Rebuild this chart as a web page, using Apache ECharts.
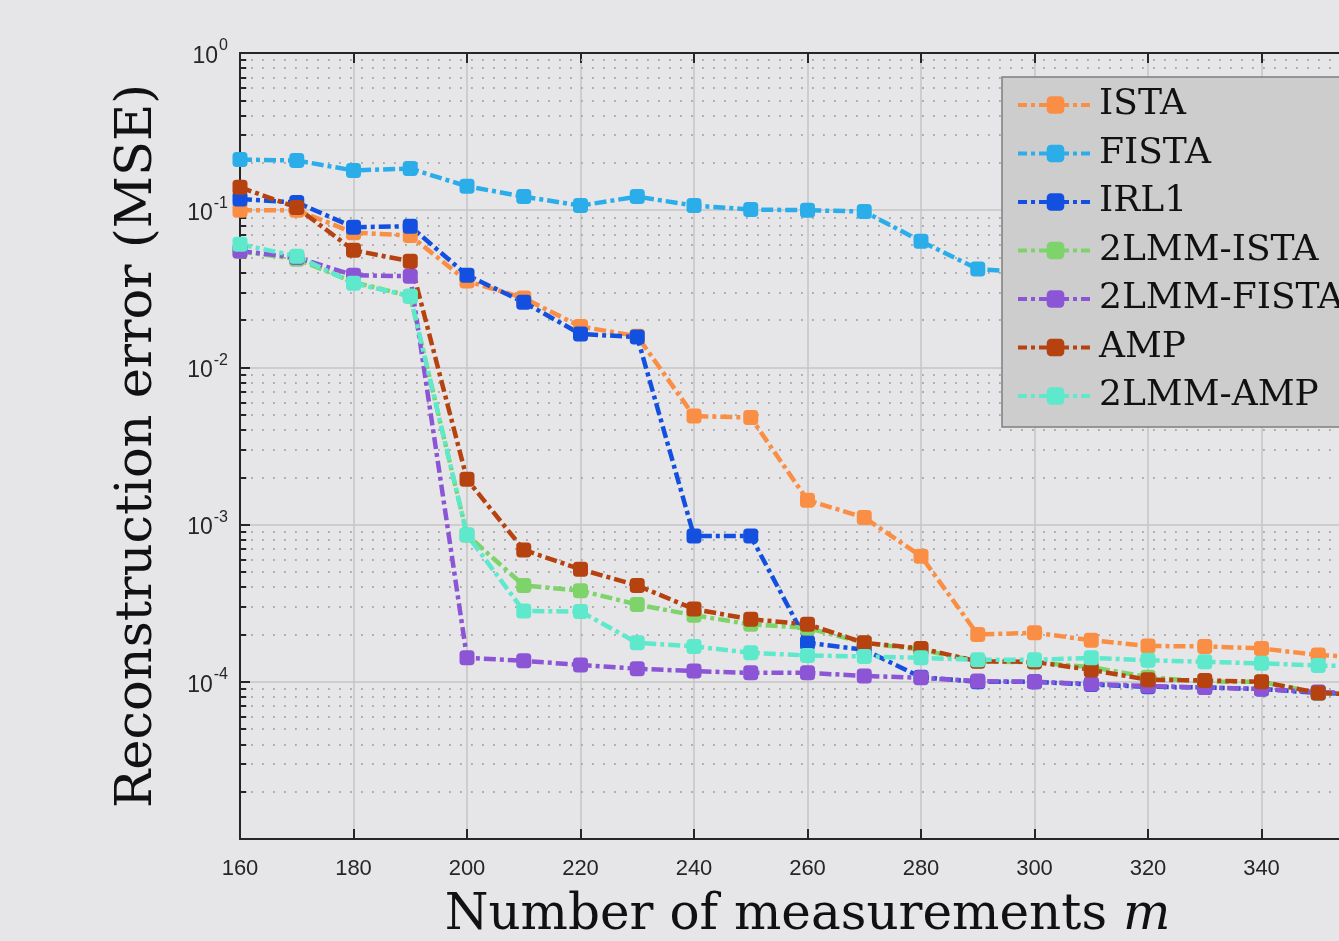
<!DOCTYPE html>
<html><head><meta charset="utf-8">
<script src="https://cdn.jsdelivr.net/npm/echarts@6/dist/echarts.min.js"></script>
<style>html,body{margin:0;padding:0;background:#e6e6e8;overflow:hidden;}#c{width:1400px;height:941px;}</style>
</head><body><div id="c"></div>
<script>
const m = [160,170,180,190,200,210,220,230,240,250,260,270,280,290,300,310,320,330,340,350,360];
const ista = [0.1,0.1,0.072,0.069,0.0354,0.0276,0.0182,0.0158,0.0049,0.0048,0.00143,0.00111,0.00063,0.0002,0.000205,0.000184,0.000169,0.000168,0.000163,0.000148,0.000142];
const fista = [0.21,0.207,0.179,0.184,0.142,0.122,0.107,0.122,0.107,0.101,0.1,0.098,0.0634,0.0422,0.04,0.038,0.036,0.035,0.034,0.033,0.032];
const irl1 = [0.118,0.112,0.078,0.079,0.0386,0.026,0.0163,0.0156,0.000845,0.000845,0.000177,0.00016,0.000107,0.0001,0.0001,0.000096,0.000093,0.000092,0.00009,0.000085,0.000083];
const lmmIsta = [0.0548,0.0488,0.0349,0.0284,0.00086,0.00041,0.00038,0.00031,0.000265,0.000232,0.00022,0.000177,0.00016,0.000135,0.000133,0.000124,0.000107,0.0001,0.0001,0.000085,0.000083];
const lmmFista = [0.055,0.05,0.0386,0.038,0.000142,0.000136,0.000128,0.000121,0.000117,0.000114,0.000114,0.000109,0.000106,0.000101,0.0001,0.000097,0.000094,0.000092,0.00009,0.000086,0.000084];
const amp = [0.14,0.104,0.0556,0.0474,0.00194,0.00069,0.00052,0.00041,0.00029,0.00025,0.000232,0.000177,0.000163,0.000135,0.000134,0.000119,0.000103,0.000102,0.0001,0.000085,0.000082];
const lmmAmp = [0.0607,0.051,0.0343,0.0284,0.00086,0.000282,0.00028,0.000177,0.000168,0.000153,0.000147,0.000145,0.000142,0.000138,0.000138,0.000142,0.000137,0.000134,0.000131,0.000127,0.000125];

const seriesNames = ['ISTA','FISTA','IRL1','2LMM-ISTA','2LMM-FISTA','AMP','2LMM-AMP'];
const seriesData = [ista, fista, irl1, lmmIsta, lmmFista, amp, lmmAmp];
const colors = ['#f98e44','#2badea','#1450e0','#7ed36b','#8b55d6','#b6420f','#5ee8cc'];

// minor log grid values (2..9 x 10^k)
const minorVals = [];
for (let k = -5; k < 0; k++) for (let j = 2; j <= 9; j++) minorVals.push(j * Math.pow(10, k));

const chart = echarts.init(document.getElementById('c'), null, {renderer: 'canvas'});
const axisColor = '#262626';
const serif = 'DejaVu Serif';

const series = seriesNames.map((n, i) => ({
  name: n, type: 'line',
  data: m.map((x, j) => [x, seriesData[i][j]]),
  symbol: 'roundRect', symbolSize: 15,
  itemStyle: {color: colors[i]},
  lineStyle: {color: colors[i], width: 4.5, type: [12, 4, 4, 4]},
  z: 3, animation: false
}));

series.unshift({
  name: '_grid', type: 'line', data: [], z: 1, silent: true, animation: false,
  markLine: {
    silent: true, symbol: 'none', animation: false, z: 1, precision: 12,
    label: {show: false},
    data: minorVals.map(v => ({yAxis: v, lineStyle: {color: '#acacac', width: 1.8, type: [1.8, 9.2]}}))
      .concat(minorVals.map(v => [{coord: [160, v], lineStyle: {color: axisColor, width: 2, type: 'solid'}}, {coord: [161.1, v]}]))
  }
});

chart.setOption({
  backgroundColor: '#e6e6e8',
  animation: false,
  grid: {left: 240, top: 53, right: 25, bottom: 102, containLabel: false, outerBoundsMode: 'none'},
  legend: {
    data: seriesNames, orient: 'vertical', left: 1002, top: 77,
    backgroundColor: '#cdcdcd', borderColor: '#7f7f7f', borderWidth: 1.5,
    padding: [8, 30, 11, 14], itemWidth: 75, itemHeight: 22, itemGap: 8.5,
    z: 10,
    lineStyle: {width: 4, type: [9, 4, 4, 4]},
    textStyle: {fontFamily: serif, fontSize: 36, color: '#111', lineHeight: 40, padding: [0,0,0,1]}
  },
  xAxis: [{
    type: 'value', min: 160, max: 360, interval: 20,
    axisLine: {show: true, lineStyle: {color: axisColor, width: 2}},
    axisTick: {show: true, inside: true, length: 10, lineStyle: {color: axisColor, width: 2}},
    axisLabel: {color: axisColor, fontFamily: 'Liberation Sans', fontSize: 22, margin: 19},
    splitLine: {show: true, lineStyle: {color: '#c4c4c4', width: 1.5}},
    name: 'Number of measurements {i|m}', nameLocation: 'middle', nameGap: 52,
    nameTextStyle: {fontFamily: serif, fontSize: 50, color: '#111',
      rich: {i: {fontFamily: serif, fontSize: 50, fontStyle: 'italic', color: '#111'}}}
  }, {
    type: 'value', min: 160, max: 360, interval: 20, position: 'top',
    axisLine: {show: true, lineStyle: {color: axisColor, width: 2}},
    axisTick: {show: true, inside: true, length: 10, lineStyle: {color: axisColor, width: 2}},
    axisLabel: {show: false}, splitLine: {show: false}
  }],
  yAxis: {
    type: 'log', logBase: 10, min: 1e-5, max: 1, interval: 1,
    axisLine: {show: true, lineStyle: {color: axisColor, width: 2}},
    axisTick: {show: true, inside: true, length: 10, lineStyle: {color: axisColor, width: 2}},
    splitLine: {show: true, lineStyle: {color: '#c4c4c4', width: 1.5}},
    axisLabel: {
      margin: 12,
      formatter: v => { const e = Math.round(Math.log10(v)); return e === -5 ? '' : '{b|10}{s|' + e + '}'; },
      rich: {
        b: {fontFamily: 'Liberation Sans', fontSize: 23, color: axisColor, verticalAlign: 'bottom'},
        s: {fontFamily: 'Liberation Sans', fontSize: 16, color: axisColor, verticalAlign: 'bottom', padding: [0,0,14,1]}
      }
    },
    name: 'Reconstruction error (MSE)', nameLocation: 'middle', nameGap: 77,
    nameTextStyle: {fontFamily: serif, fontSize: 51, color: '#111'}
  },
  series: series
});
</script></body></html>
